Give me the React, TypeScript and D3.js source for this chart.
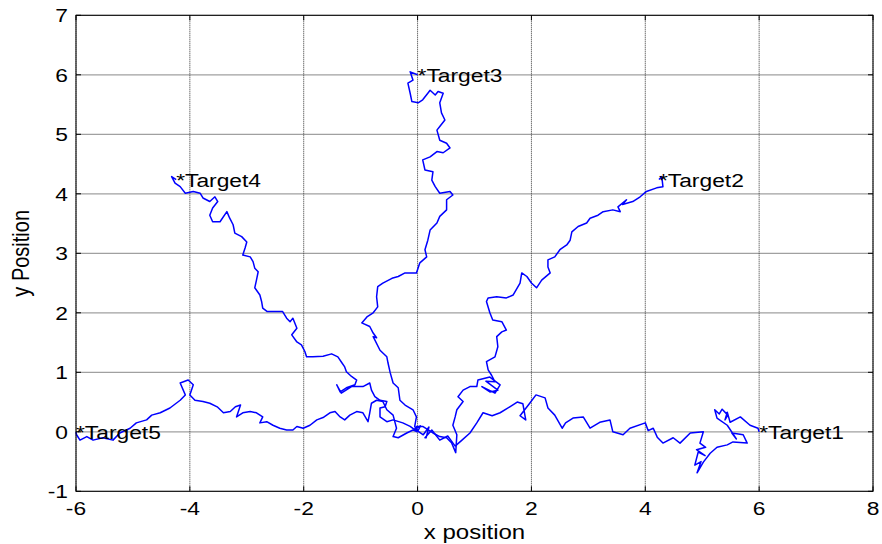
import React, { useRef, useEffect } from 'react';
import * as d3 from 'd3';

// axis ticks
const xTicks = [-6, -4, -2, 0, 2, 4, 6, 8];
const yTicks = [-1, 0, 1, 2, 3, 4, 5, 6, 7];

// targets on the circle of radius 6
const targetNames = ['Target1', 'Target2', 'Target3', 'Target4', 'Target5'];
const targetX = [6, 4.24, 0, -4.24, -6];
const targetY = [0, 4.24, 6, 4.24, 0];

// walks from the origin to each target
const path1 = [
  [0, 0], [0.05, 0.1], [-0.05, 0.05], [0.1, -0.05], [0.2, 0.08], [0.15, -0.1],
  [0.13, -0.1], [0.25, 0.03], [0.39, -0.14], [0.53, -0.07], [0.66, -0.24], [0.78, -0.14],
  [0.92, -0.02], [1.04, 0.15], [1.15, 0.32], [1.31, 0.27], [1.45, 0.32], [1.62, 0.42], [1.75, 0.5],
  [1.85, 0.47], [1.9, 0.2], [1.8, 0.27], [1.97, 0.48], [2.08, 0.62], [2.24, 0.57], [2.29, 0.4],
  [2.41, 0.28], [2.54, 0.06], [2.6, 0.15], [2.73, 0.23], [2.91, 0.25], [3.03, 0.06], [3.2, 0.16], [3.38, 0.2],
  [3.43, 0.0], [3.61, -0.05], [3.73, 0.06], [4.0, 0.15], [4.05, 0.02], [4.14, 0.06], [4.21, -0.09], [4.31, -0.19],
  [4.49, -0.1], [4.61, -0.19], [4.79, -0.02], [5.02, 0.0], [4.96, -0.19], [5.06, -0.26], [4.9, -0.3],
  [5.05, -0.4], [4.93, -0.34], [4.87, -0.56], [4.98, -0.5],
  [4.91, -0.69], [5.02, -0.51], [5.14, -0.36], [5.26, -0.26], [5.44, -0.22], [5.54, -0.17], [5.79, -0.19],
  [5.72, -0.05], [5.52, -0.02], [5.6, -0.12], [5.44, 0.11], [5.26, 0.23], [5.22, 0.37], [5.3, 0.3], [5.35, 0.38],
  [5.45, 0.28], [5.4, 0.2], [5.44, 0.33], [5.49, 0.16],
  [5.67, 0.25], [5.84, 0.11], [5.98, 0.06], [6, 0],
];

const path2 = [
  [0, 0], [-0.02, 0.09], [0.09, 0.09], [0.27, -0.02], [0.39, -0.08], [0.51, -0.1], [0.6, -0.19],
  [0.67, -0.35], [0.69, -0.05], [0.62, 0.11], [0.66, 0.25], [0.69, 0.37], [0.8, 0.51], [0.71, 0.59],
  [0.8, 0.7], [0.92, 0.76], [1.04, 0.76], [1.06, 0.87], [1.27, 0.92], [1.45, 0.79], [1.36, 0.65],
  [1.13, 0.76], [1.27, 0.67], [1.41, 0.7], [1.2, 0.85], [1.36, 0.84], [1.3, 0.95], [1.24, 1.04], [1.21, 1.18],
  [1.36, 1.26], [1.41, 1.43], [1.39, 1.6], [1.48, 1.68], [1.56, 1.71], [1.48, 1.85], [1.32, 1.88],
  [1.27, 2.0], [1.21, 2.19], [1.24, 2.25], [1.39, 2.27], [1.56, 2.25], [1.68, 2.3], [1.8, 2.5],
  [1.83, 2.67], [1.92, 2.61], [2.0, 2.5], [2.09, 2.42], [2.18, 2.55], [2.33, 2.67], [2.29, 2.77],
  [2.29, 2.89], [2.41, 2.94], [2.5, 3.06], [2.62, 3.14], [2.68, 3.22], [2.71, 3.36], [2.82, 3.45],
  [2.97, 3.51], [3.03, 3.59], [3.17, 3.64], [3.26, 3.7], [3.43, 3.73], [3.56, 3.7], [3.52, 3.78],
  [3.67, 3.9], [3.6, 3.82], [3.78, 3.87], [3.91, 3.95], [4.02, 4.04], [4.2, 4.1], [4.31, 4.12], [4.29, 4.29],
  [4.24, 4.24],
];

const path3 = [
  [0, 0], [-0.05, 0.09], [-0.02, 0.25], [-0.08, 0.37], [-0.22, 0.45], [-0.31, 0.53], [-0.34, 0.74],
  [-0.43, 0.82], [-0.48, 0.99], [-0.52, 1.16], [-0.54, 1.26], [-0.66, 1.37], [-0.78, 1.6], [-0.72, 1.58],
  [-0.78, 1.66], [-0.84, 1.77], [-0.98, 1.83], [-0.89, 1.93], [-0.78, 2.0], [-0.7, 2.1], [-0.72, 2.27],
  [-0.7, 2.44], [-0.61, 2.5], [-0.45, 2.58], [-0.34, 2.61], [-0.22, 2.67], [-0.1, 2.67], [-0.02, 2.67],
  [0.04, 2.84], [0.16, 2.94], [0.13, 3.06], [0.18, 3.22], [0.22, 3.39], [0.34, 3.51], [0.39, 3.62],
  [0.51, 3.73], [0.51, 3.9], [0.62, 3.98], [0.57, 4.04], [0.39, 4.01], [0.31, 4.12], [0.25, 4.23],
  [0.27, 4.37], [0.13, 4.4], [0.09, 4.57], [0.22, 4.62], [0.34, 4.71], [0.45, 4.69], [0.57, 4.77],
  [0.51, 4.85], [0.39, 4.9], [0.34, 5.07], [0.39, 5.13], [0.48, 5.24], [0.42, 5.36], [0.39, 5.53],
  [0.45, 5.69], [0.36, 5.72], [0.31, 5.66], [0.22, 5.74], [0.18, 5.69], [0.09, 5.58], [0.01, 5.53],
  [-0.1, 5.55], [-0.13, 5.69], [-0.17, 5.86], [-0.08, 5.91], [-0.13, 6.05], [0, 6],
];

const path4 = [
  [0, 0], [-0.13, 0.09], [-0.26, 0.15], [-0.43, 0.2], [-0.54, 0.17], [-0.66, 0.25], [-0.66, 0.4],
  [-0.57, 0.42], [-0.54, 0.51], [-0.66, 0.53], [-0.75, 0.59], [-0.81, 0.7], [-0.84, 0.82], [-0.96, 0.76],
  [-1.16, 0.76], [-1.34, 0.65], [-1.42, 0.79], [-1.36, 0.67], [-1.25, 0.74], [-1.1, 0.79], [-1.07, 0.87],
  [-1.16, 0.93], [-1.25, 1.01], [-1.28, 1.09], [-1.33, 1.16], [-1.4, 1.26], [-1.51, 1.31], [-1.66, 1.27],
  [-1.84, 1.26], [-1.95, 1.26], [-1.98, 1.35], [-2.04, 1.46], [-2.12, 1.51], [-2.21, 1.63], [-2.12, 1.74],
  [-2.19, 1.91], [-2.24, 1.85], [-2.3, 1.91], [-2.37, 2.02], [-2.51, 2.02], [-2.64, 2.02], [-2.72, 2.08],
  [-2.74, 2.19], [-2.77, 2.3], [-2.86, 2.42], [-2.83, 2.55], [-2.8, 2.69], [-2.86, 2.75], [-2.89, 2.86],
  [-2.94, 2.94], [-3.07, 2.97], [-3.03, 3.09], [-3.0, 3.19], [-3.09, 3.28], [-3.21, 3.34], [-3.24, 3.48],
  [-3.3, 3.59], [-3.35, 3.7], [-3.47, 3.53], [-3.6, 3.53], [-3.65, 3.64], [-3.6, 3.76], [-3.51, 3.87],
  [-3.56, 3.95], [-3.65, 3.87], [-3.77, 3.93], [-3.82, 4.01], [-3.94, 4.04], [-4.08, 4.01], [-4.17, 4.12],
  [-4.26, 4.18], [-4.32, 4.29], [-4.24, 4.24],
];

const path5 = [
  [0, 0], [-0.08, 0.03], [-0.19, -0.02], [-0.34, -0.1], [-0.43, -0.08], [-0.37, 0.06], [-0.4, 0.17],
  [-0.43, 0.28], [-0.54, 0.37], [-0.61, 0.51], [-0.72, 0.53], [-0.81, 0.48], [-0.84, 0.32], [-0.87, 0.17],
  [-0.96, 0.32], [-1.07, 0.34], [-1.19, 0.28], [-1.28, 0.2], [-1.36, 0.25], [-1.45, 0.34], [-1.54, 0.32],
  [-1.66, 0.24], [-1.77, 0.2], [-1.89, 0.11], [-2.01, 0.06], [-2.12, 0.09], [-2.19, 0.03], [-2.3, 0.03],
  [-2.42, 0.06], [-2.54, 0.11], [-2.65, 0.17], [-2.77, 0.15], [-2.72, 0.25], [-2.83, 0.32], [-2.94, 0.34],
  [-3.07, 0.32], [-3.18, 0.25], [-3.11, 0.45], [-3.2, 0.42], [-3.29, 0.34], [-3.41, 0.32], [-3.52, 0.42],
  [-3.65, 0.48], [-3.77, 0.51], [-3.91, 0.53], [-4.0, 0.62], [-3.94, 0.79], [-4.03, 0.87], [-4.17, 0.82],
  [-4.08, 0.62], [-4.17, 0.53], [-4.35, 0.4], [-4.52, 0.32], [-4.67, 0.28], [-4.76, 0.2], [-4.94, 0.15],
  [-5.05, 0.06], [-5.23, -0.02], [-5.35, -0.14], [-5.53, -0.1], [-5.7, -0.14], [-5.81, -0.08], [-5.93, -0.14],
  [-5.99, -0.05], [-6, 0],
];

const paths = [path1, path2, path3, path4, path5];

const FONT = '"Liberation Sans", Arial, sans-serif';

const App = () => {
  const ref = useRef(null);

  useEffect(() => {
    const width = 882;
    const height = 544;
    const left = 76, right = 873, top = 15.3, bottom = 491.3;

    d3.select(ref.current).selectAll('*').remove();

    const x = d3.scaleLinear().domain([-6, 8]).range([left, right]);
    const y = d3.scaleLinear().domain([-1, 7]).range([bottom, top]);

    const svg = d3.select(ref.current)
      .append('svg')
        .attr('width', width)
        .attr('height', height)
        .style('position', 'absolute')
        .style('left', 0)
        .style('top', 0)
        .style('background', '#fff');

    // grid
    svg.append('g')
      .selectAll('line')
      .data(yTicks)
      .join('line')
        .attr('x1', left).attr('x2', right)
        .attr('y1', d => y(d)).attr('y2', d => y(d))
        .attr('stroke', '#a0a0a0')
        .attr('stroke-width', 1.2);

    svg.append('g')
      .selectAll('line')
      .data(xTicks)
      .join('line')
        .attr('x1', d => x(d)).attr('x2', d => x(d))
        .attr('y1', top).attr('y2', bottom)
        .attr('stroke', '#333')
        .attr('stroke-width', 1)
        .attr('stroke-dasharray', '1,1');

    // walks
    const line = d3.line()
      .x(d => x(d[0]))
      .y(d => y(d[1]));

    svg.append('g')
      .selectAll('path')
      .data(paths)
      .join('path')
        .attr('d', d => line(d))
        .attr('fill', 'none')
        .attr('stroke', '#0000ff')
        .attr('stroke-width', 1.5)
        .attr('stroke-linejoin', 'round');

    // box + ticks
    svg.append('rect')
      .attr('x', left).attr('y', top)
      .attr('width', right - left).attr('height', bottom - top)
      .attr('fill', 'none')
      .attr('stroke', '#000')
      .attr('stroke-width', 1);

    const ticks = svg.append('g').attr('stroke', '#000').attr('stroke-width', 1);
    xTicks.forEach(t => {
      ticks.append('line').attr('x1', x(t)).attr('x2', x(t)).attr('y1', bottom).attr('y2', bottom - 5);
      ticks.append('line').attr('x1', x(t)).attr('x2', x(t)).attr('y1', top).attr('y2', top + 5);
    });
    yTicks.forEach(t => {
      ticks.append('line').attr('x1', left).attr('x2', left + 5).attr('y1', y(t)).attr('y2', y(t));
      ticks.append('line').attr('x1', right).attr('x2', right - 5).attr('y1', y(t)).attr('y2', y(t));
    });

    // tick labels (the original figure is stretched sideways)
    const sx = 1.2;
    const fs = '19px';
    svg.append('g')
      .selectAll('text')
      .data(xTicks)
      .join('text')
        .attr('transform', d => `translate(${x(d)},${bottom + 24}) scale(${sx},1)`)
        .attr('text-anchor', 'middle')
        .style('font-family', FONT)
        .style('font-size', fs)
        .text(d => d);

    svg.append('g')
      .selectAll('text')
      .data(yTicks)
      .join('text')
        .attr('transform', d => `translate(${left - 8},${y(d) + 7}) scale(${sx},1)`)
        .attr('text-anchor', 'end')
        .style('font-family', FONT)
        .style('font-size', fs)
        .text(d => d);

    // axis titles
    svg.append('text')
      .attr('transform', `translate(${(left + right) / 2},${bottom + 48}) scale(${sx},1)`)
      .attr('text-anchor', 'middle')
      .style('font-family', FONT)
      .style('font-size', '20px')
      .text('x position');

    svg.append('text')
      .attr('transform', `translate(29,${(top + bottom) / 2}) scale(${sx},1) rotate(-90)`)
      .attr('text-anchor', 'middle')
      .style('font-family', FONT)
      .style('font-size', '20px')
      .text('y Position');

    // target labels
    svg.append('g')
      .selectAll('text')
      .data(targetNames)
      .join('text')
        .attr('transform', (d, i) => `translate(${x(targetX[i])},${y(targetY[i]) + 7}) scale(${sx},1)`)
        .style('font-family', FONT)
        .style('font-size', fs)
        .text(d => '*' + d);
  }, []);

  return <div ref={ref}></div>;
};

export default App;
